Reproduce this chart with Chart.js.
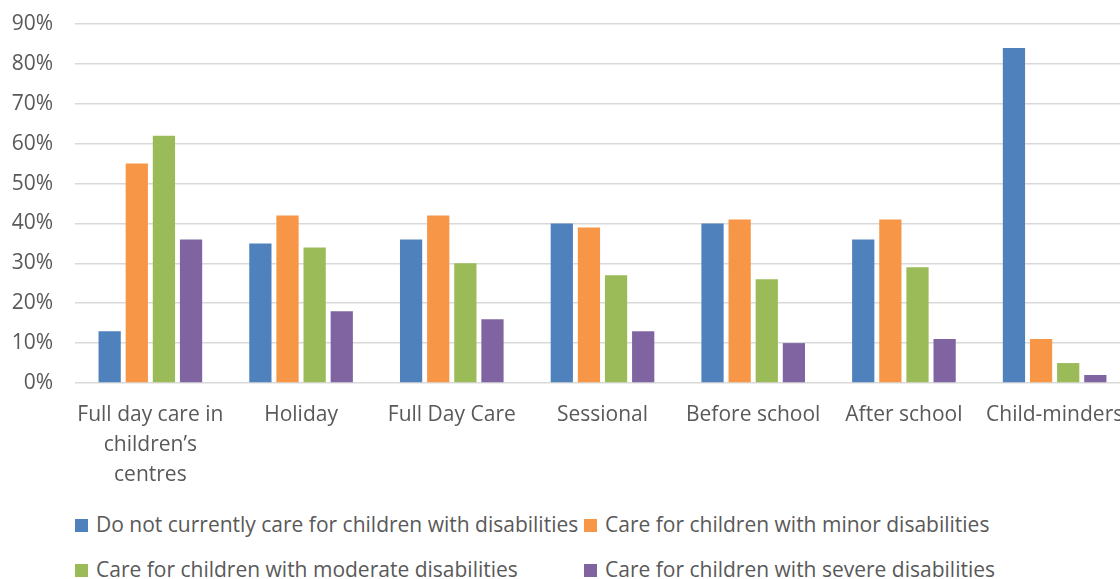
<!DOCTYPE html>
<html>
<head>
<meta charset="utf-8">
<script src="https://cdn.jsdelivr.net/npm/chart.js@4/dist/chart.umd.min.js"></script>
<style>
  html, body { margin: 0; padding: 0; background: #fff; overflow: hidden; }
  #wrap { position: relative; width: 1120px; height: 579px; overflow: hidden; }
  #chart { position: absolute; left: 0; top: 0; }
  #legend { position: absolute; left: 0; top: 0; font-family: "Open Sans", sans-serif; font-size: 21px; color: #595959; }
  .item { position: absolute; white-space: nowrap; line-height: 28px; }
  .box { display: inline-block; width: 13px; height: 13px; margin-right: 8px; vertical-align: 0px; }
</style>
</head>
<body>
<div id="wrap">
  <canvas id="chart" width="1210" height="490"></canvas>
  <div id="legend"></div>
</div>
<script>
// categories and series (percent)
const categories = [
    ['Full day care in', 'children\u2019s', 'centres'],
    'Holiday',
    'Full Day Care',
    'Sessional',
    'Before school',
    'After school',
    'Child-minders'
];
const seriesNames = [
    'Do not currently care for children with disabilities',
    'Care for children with minor disabilities',
    'Care for children with moderate disabilities',
    'Care for children with severe disabilities'
];
const noCare       = [13, 35, 36, 40, 40, 36, 84];
const minorCare    = [55, 42, 42, 39, 41, 41, 11];
const moderateCare = [62, 34, 30, 27, 26, 29, 5];
const severeCare   = [36, 18, 16, 13, 10, 11, 2];
const yTicks = [0, 10, 20, 30, 40, 50, 60, 70, 80, 90];

const colors = ['#4F81BD', '#F79646', '#9BBB59', '#8064A2'];
const allValues = [noCare, minorCare, moderateCare, severeCare];
const textColor = '#595959';
const fontFamily = '"Open Sans", sans-serif';

const datasets = seriesNames.map((name, i) => ({
    label: name,
    data: allValues[i],
    backgroundColor: colors[i],
    borderWidth: 0,
    categoryPercentage: 0.72,
    barPercentage: 0.82
}));

const chart = new Chart(document.getElementById('chart').getContext('2d'), {
    type: 'bar',
    data: { labels: categories, datasets: datasets },
    options: {
        responsive: false,
        animation: false,
        devicePixelRatio: 1,
        layout: { padding: { top: 24, right: 80, left: 0, bottom: 0 } },
        plugins: {
            legend: { display: false },
            tooltip: { enabled: false }
        },
        scales: {
            x: {
                grid: { display: false },
                border: { display: false },
                ticks: {
                    color: textColor,
                    font: { family: fontFamily, size: 21, lineHeight: '30px' },
                    padding: 9,
                    autoSkip: false,
                    maxRotation: 0,
                    minRotation: 0
                },
                afterFit: s => { s.height = 107; s.paddingLeft = 0; s.paddingRight = 0; }
            },
            y: {
                min: yTicks[0],
                max: yTicks[yTicks.length - 1],
                afterBuildTicks: s => { s.ticks = yTicks.map(v => ({ value: v })); },
                grid: { color: '#d9d9d9', lineWidth: 1.5, drawTicks: false },
                border: { display: false },
                ticks: {
                    color: textColor,
                    font: { family: fontFamily, size: 21 },
                    padding: 22,
                    callback: v => v + '%'
                },
                afterFit: s => { s.width = 75; s.paddingTop = 0; s.paddingBottom = 0; }
            }
        }
    }
});

// legend laid out in two columns like the original
const legendSpots = [[75, 510], [584, 510], [75, 555], [584, 555]];
const legend = document.getElementById('legend');
chart.data.datasets.forEach((ds, i) => {
    const el = document.createElement('div');
    el.className = 'item';
    el.style.left = legendSpots[i][0] + 'px';
    el.style.top = legendSpots[i][1] + 'px';
    el.innerHTML = '<span class="box" style="background:' + ds.backgroundColor + '"></span>' + ds.label;
    legend.appendChild(el);
});
</script>
</body>
</html>
